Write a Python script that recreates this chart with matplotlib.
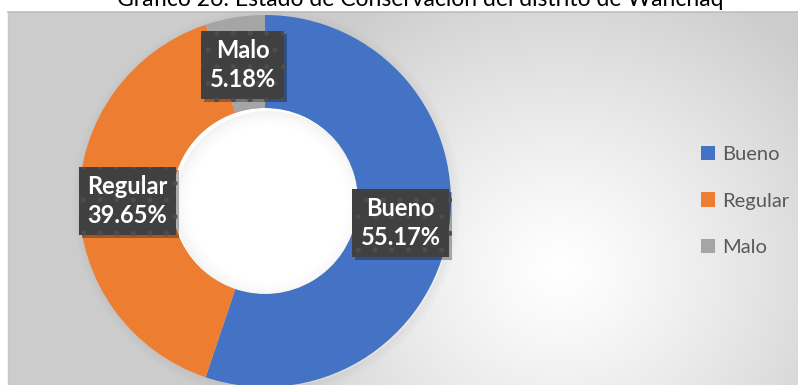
import matplotlib
matplotlib.use("Agg")
import matplotlib.pyplot as plt
import numpy as np
from matplotlib.patches import Wedge, Circle
import matplotlib.patheffects as pe

# Estado de conservacion - distrito de Wanchaq
categorias = ["Bueno", "Regular", "Malo"]
porcentajes = [55.17, 39.65, 5.18]
colores = ["#4472C4", "#ED7D31", "#A5A5A5"]
titulo = "Gráfico 26: Estado de Conservación del distrito de Wanchaq"

W, H = 798, 385
plt.rcParams['font.family'] = ['Lato', 'DejaVu Sans']
plt.rcParams['hatch.linewidth'] = 1.2

fig = plt.figure(figsize=(W / 100, H / 100), dpi=100)
fig.patch.set_facecolor("white")
ax = fig.add_axes([0, 0, 1, 1])

# radial gradient for the chart area
x0, y0 = 8, 12
xs = np.arange(x0, W) + 0.5
ys = np.arange(y0, H) + 0.5
X, Y = np.meshgrid(xs, ys)
d = np.hypot((X - 560) / 340, (Y - 270) / 320)
v = 1 - 0.2 * np.clip(d, 0, 1) ** 1.2
ax.imshow(np.dstack([v, v, v]), extent=(x0, W, 0, H - y0), origin="upper",
          interpolation="bilinear", zorder=0)
ax.plot([x0, W], [H - y0, H - y0], color="#bdbdbd", lw=1.2, zorder=1)
ax.plot([x0, x0], [0, H - y0], color="#c8c8c8", lw=1.0, zorder=1)

cx, cy, r = 265, H - 201, 186
ancho = 0.5 * r
r_in = r - ancho

# soft shadow around the ring
for i in range(10):
    ax.add_patch(Wedge((cx + 2, cy - 2), r + i, 0, 360, width=1.0,
                       facecolor="black", alpha=0.045 * (1 - i / 10), lw=0, zorder=2))

# light hole with a soft inner shade
ax.add_patch(Circle((cx, cy), r_in, facecolor="white", lw=0, zorder=2))
for i in range(16):
    ax.add_patch(Wedge((cx + 3, cy - 3), r_in - i, 0, 360, width=1.0,
                       facecolor="black", alpha=0.05 * (1 - i / 16) ** 1.5, lw=0, zorder=2))

wedges, _ = ax.pie(porcentajes, colors=colores, startangle=90, counterclock=False,
                   center=(cx, cy), radius=r,
                   wedgeprops=dict(width=ancho, edgecolor="none"))
for w in wedges:
    w.set_zorder(3)

ax.set_xlim(0, W)
ax.set_ylim(0, H)
ax.set_aspect("equal")
ax.axis("off")

# data labels in the middle of each wedge
r_lab = r - ancho / 2 - 2
for w, nombre, p in zip(wedges, categorias, porcentajes):
    ang = np.deg2rad((w.theta1 + w.theta2) / 2)
    tx = cx + r_lab * np.cos(ang)
    ty = cy + r_lab * np.sin(ang)
    t = ax.text(tx, ty, f"{nombre}\n{p:.2f}%", ha="center", va="center",
                color="white", fontsize=17, fontweight="bold", linespacing=1.3,
                zorder=6,
                bbox=dict(boxstyle="square,pad=0.35", facecolor="#404040",
                          edgecolor="#4d4d4d", lw=0, hatch="."))
    t.get_bbox_patch().set_path_effects([
        pe.SimplePatchShadow(offset=(2, -2), shadow_rgbFace="black", alpha=0.3),
        pe.Normal()])

leg = ax.legend(wedges, categorias, loc="center left",
                bbox_to_anchor=(691 / W, 1 - 201 / H), frameon=False,
                fontsize=14.5, handlelength=0.7, handleheight=0.7,
                handletextpad=0.35, labelspacing=1.45, borderpad=0)
for txt in leg.get_texts():
    txt.set_color("#595959")

fig.text(420 / W, 1 - 6 / H, titulo, ha="center", va="baseline",
         fontsize=16.5, color="black")

fig.savefig("out.png", dpi=100)
